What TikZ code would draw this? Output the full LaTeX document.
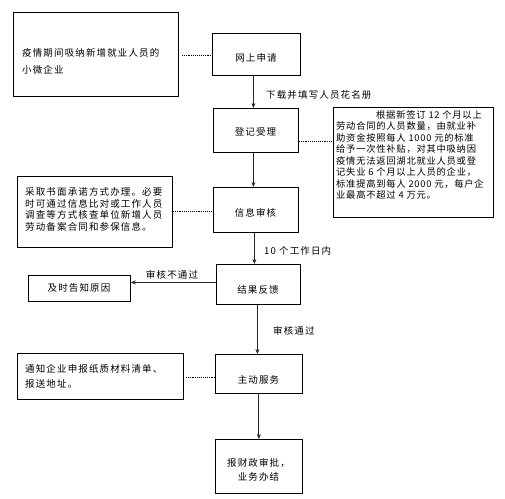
\documentclass[tikz,border=0pt]{standalone}
\usepackage{fontspec}
\setmainfont{Noto Sans CJK SC}[LetterSpace=12]
\newfontfamily\rfont{Noto Sans CJK SC}[LetterSpace=8]
\usetikzlibrary{arrows.meta,calc}
\begin{document}
\begin{tikzpicture}[x=1pt,y=-1pt,
  box/.style={draw=black,line width=0.8pt,rectangle,inner sep=0pt,anchor=north west},
  txt/.style={inner sep=0pt,font=\fontsize{9.5}{11.6}\selectfont},
  ltxt/.style={txt,align=left,anchor=west},
  arr/.style={draw=black!85,line width=0.9pt,-{Stealth[length=5pt,width=4pt]}},
  dot/.style={draw=black,line width=0.9pt,densely dotted}]
\useasboundingbox (0,0) rectangle (505,498);
% boxes
\node[box,minimum width=165pt,minimum height=84pt] (b1) at (13,12) {};
\node[box,minimum width=88pt,minimum height=42pt] (w) at (212,33) {};
\node[box,minimum width=85pt,minimum height=44pt] (d) at (213,108) {};
\node[box,minimum width=160pt,minimum height=110pt] (r) at (333,107) {};
\node[box,minimum width=85pt,minimum height=45pt] (x) at (213,187) {};
\node[box,minimum width=155pt,minimum height=71pt] (l3) at (17,176) {};
\node[box,minimum width=84pt,minimum height=40pt] (j) at (216,264) {};
\node[box,minimum width=102pt,minimum height=26pt] (n) at (28,275) {};
\node[box,minimum width=87pt,minimum height=39pt] (z) at (215,354) {};
\node[box,minimum width=166pt,minimum height=46pt] (l4) at (17,353) {};
\node[box,minimum width=87pt,minimum height=54pt] (f) at (215,439) {};
% box texts
\node[txt] (tw) at (256,58) {网上申请};
\node[txt] (td) at (255.5,132) {登记受理};
\node[txt] (tx) at (255.5,213) {信息审核};
\node[txt] (tj) at (258,290) {结果反馈};
\node[txt] (tn) at (79,288) {及时告知原因};
\node[txt] (tz) at (258.5,380) {主动服务};
\node[txt,align=center,font=\fontsize{9.5}{14}\selectfont] (tf) at (258.5,470) {报财政审批，\\业务办结};
\node[ltxt,font=\fontsize{9.5}{17}\selectfont] (t1) at (22,61.5) {疫情期间吸纳新增就业人员的\\小微企业};
\node[ltxt] (t3) at (25,209.5) {采取书面承诺方式办理。必要\\时可通过信息比对或工作人员\\调查等方式核查单位新增人员\\劳动备案合同和参保信息。};
\node[ltxt,font=\fontsize{9.5}{15}\selectfont] (t4) at (25,376.5) {通知企业申报纸质材料清单、\\报送地址。};
\node[txt,align=left,anchor=north west,font=\rfont\fontsize{9.3}{11.5}\selectfont] (tr) at (336,110) {\hspace*{40pt}根据新签订 12 个月以上\\劳动合同的人员数量，由就业补\\助资金按照每人 1000 元的标准\\给予一次性补贴，对其中吸纳因\\疫情无法返回湖北就业人员或登\\记失业 6 个月以上人员的企业，\\标准提高到每人 2000 元，每户企\\业最高不超过 4 万元。};
% edge labels
\node[txt,anchor=west] (lab1) at (266,95) {下载并填写人员花名册};
\node[txt,anchor=west] (lab2) at (264,251) {10 个工作日内};
\node[txt] (lab3) at (172,275) {审核不通过};
\node[txt,anchor=west] (lab4) at (273,331) {审核通过};
% connectors
\draw[dot] ([xshift=3pt,yshift=-1pt]b1.east) -- ([yshift=-1pt]b1.east -| w.west);
\draw[dot] ([yshift=-11pt]d.east) -- ([yshift=-11pt]d.east -| r.west);
\draw[dot] ([yshift=0.5pt]l3.east) -- ([yshift=0.5pt]l3.east -| x.west);
\draw[dot] ([xshift=2pt,yshift=-1.5pt]l4.east) -- ([yshift=-1.5pt]l4.east -| z.west);
\draw[arr] ([xshift=-3pt]w.south) -- ([xshift=-3pt]w.south |- d.north);
\draw[arr] ([xshift=-2.5pt]d.south) -- ([xshift=-2.5pt]d.south |- x.north);
\draw[arr] ([xshift=-1.5pt]x.south) -- ([xshift=-1.5pt]x.south |- j.north);
\draw[arr] ([yshift=2pt]j.west) -- ([yshift=2pt]j.west -| n.east);
\draw[arr] ([xshift=-1pt]j.south) -- ([xshift=-1pt]j.south |- z.north);
\draw[arr] (z.south) -- (z.south |- f.north);
\end{tikzpicture}
\end{document}
